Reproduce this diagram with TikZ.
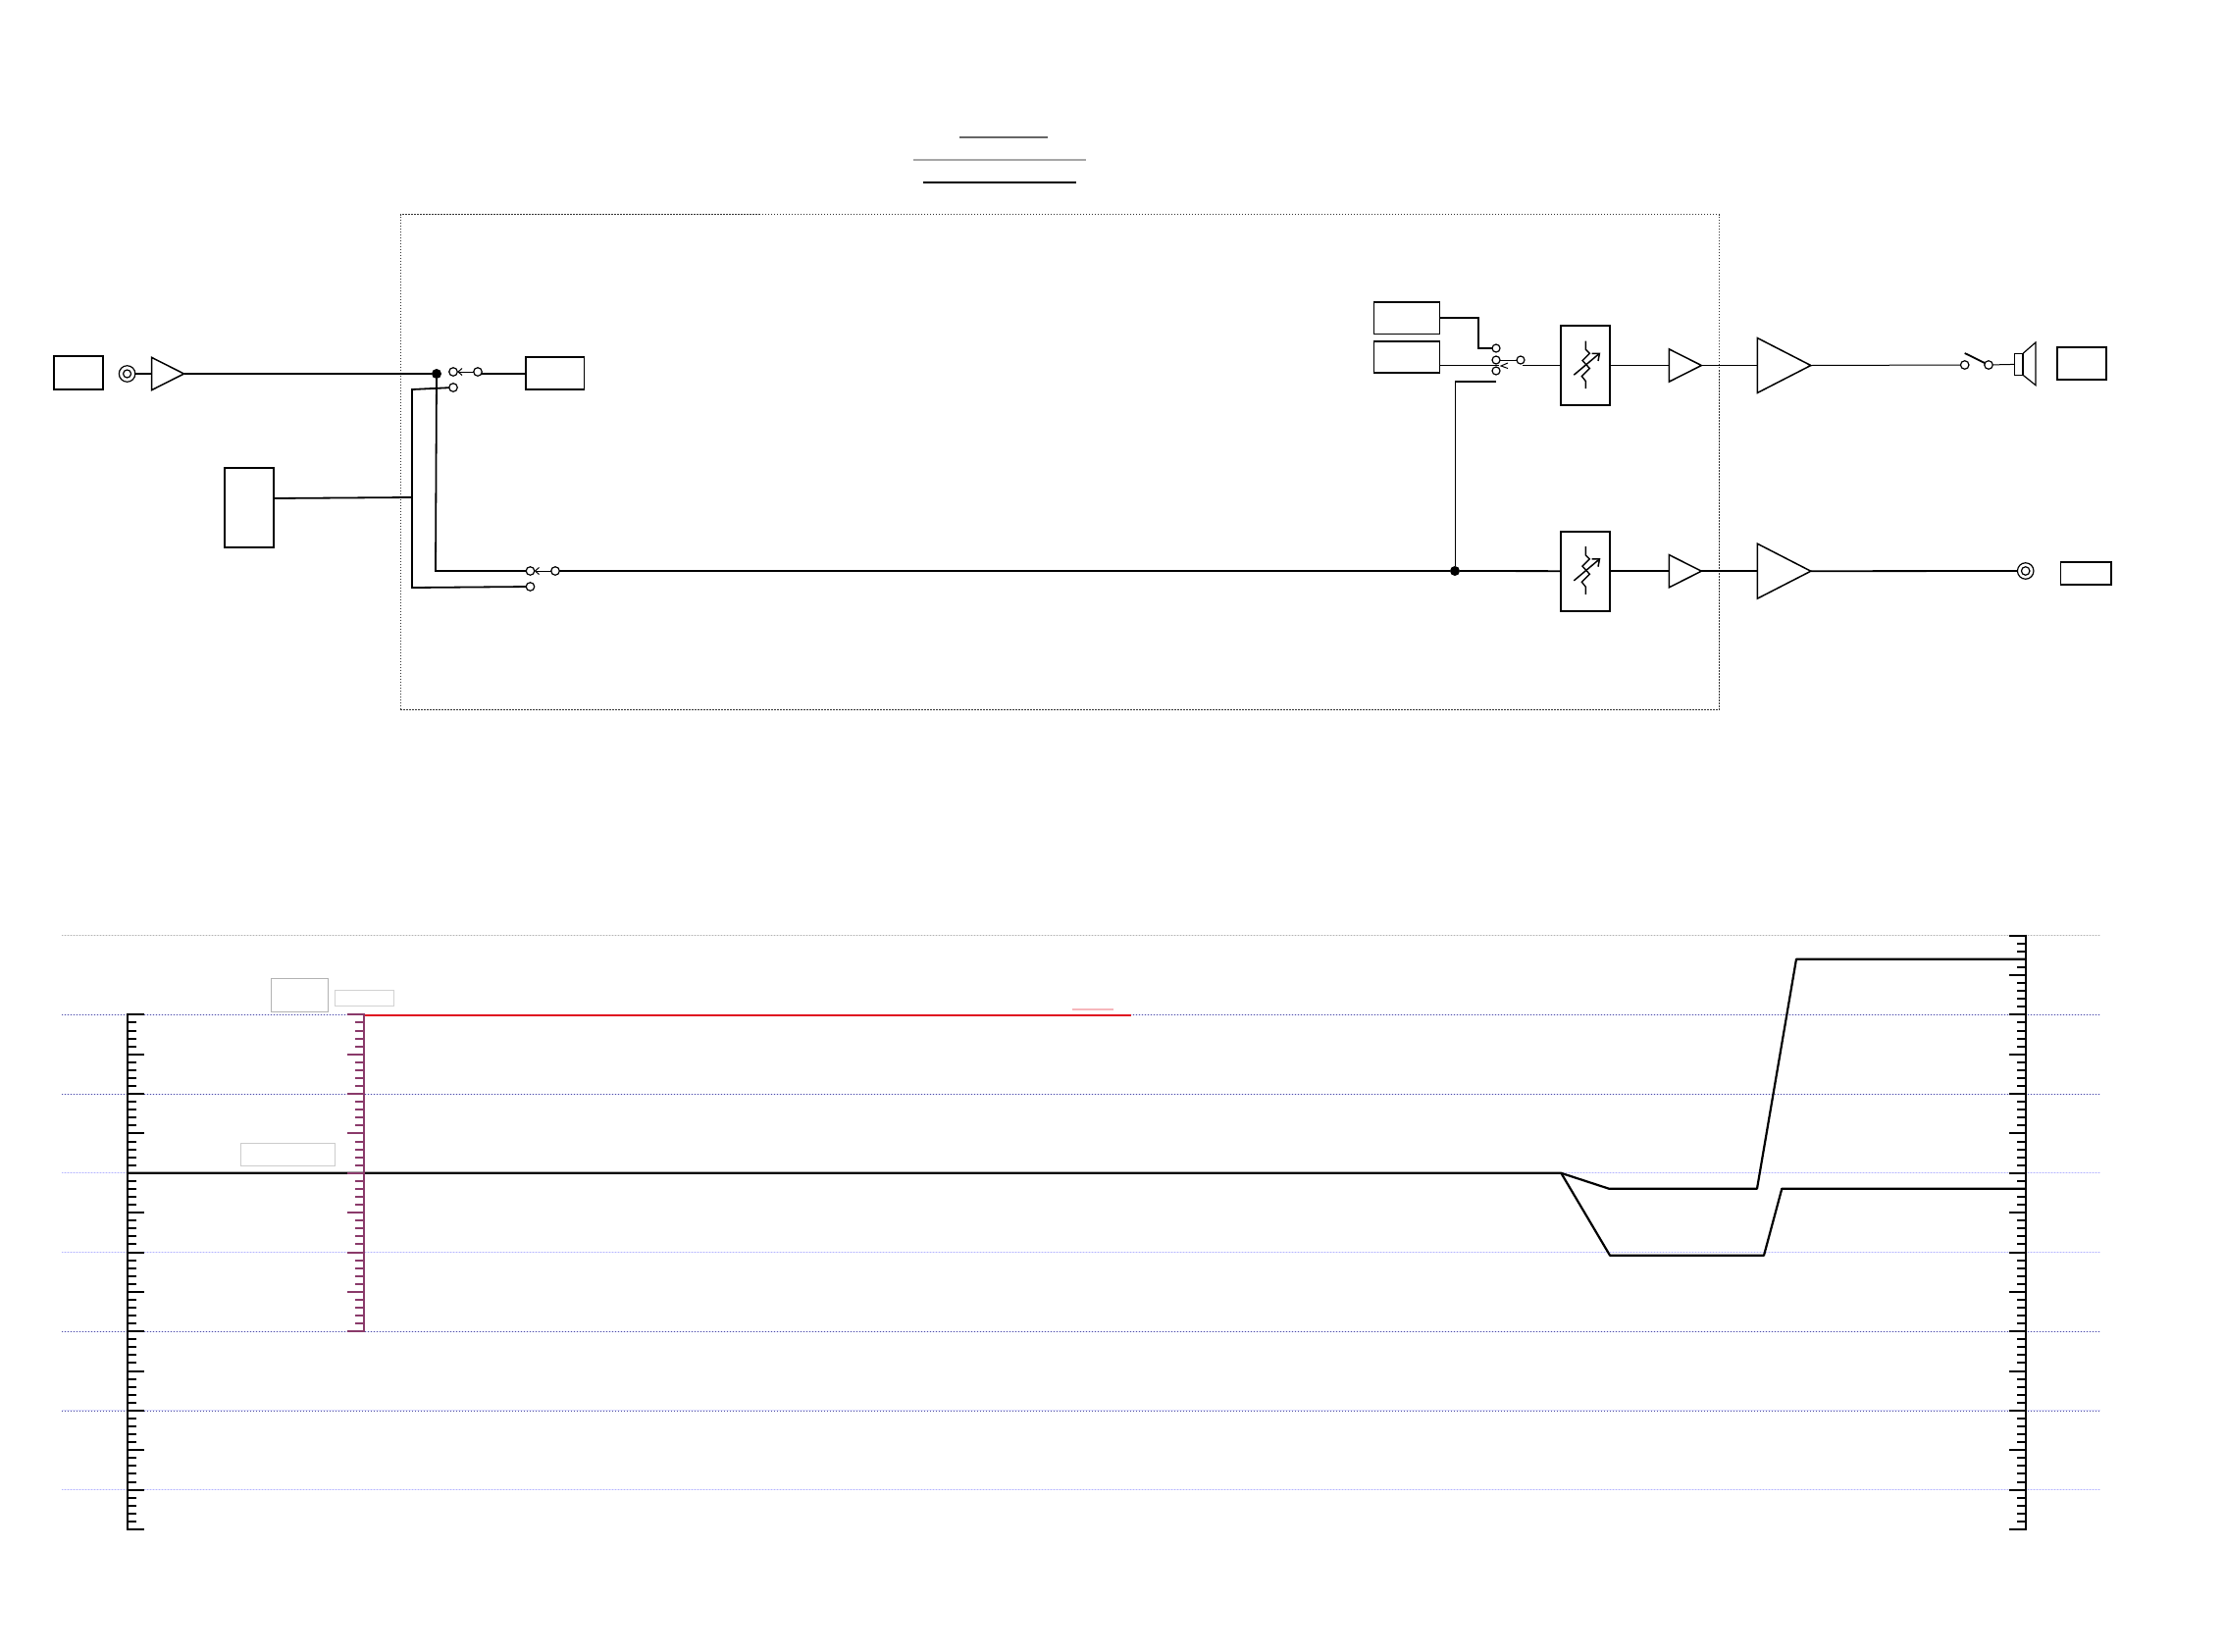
\documentclass[tikz,border=0pt]{standalone}
\usepackage{tikz}
\usetikzlibrary{arrows.meta,positioning,calc,shapes.geometric}
\definecolor{axispurple}{HTML}{8A3A6A}
\definecolor{tracered}{HTML}{E01020}
\begin{document}
\begin{tikzpicture}[x=1pt,y=-1pt,outer sep=0pt,
 box/.style={draw,inner sep=0pt,line width=1.1pt},
 boxb/.style={draw,inner sep=0pt,line width=1.7pt},
 ghost/.style={draw=gray!55,inner sep=0pt,line width=1pt,minimum width=#1},
 amptri/.style={draw,fill=white,isosceles triangle,isosceles triangle stretches,
  inner sep=0pt,line width=1.5pt,minimum width=33.3pt,minimum height=33pt},
 ampbig/.style={amptri,minimum width=56pt,minimum height=54.5pt},
 term/.style={circle,draw,fill=white,inner sep=0pt,minimum size=8.5pt,line width=1.2pt},
 coax/.style={circle,draw,fill=white,inner sep=0pt,minimum size=16.5pt,line width=1.2pt},
 dotjn/.style={circle,fill=black,inner sep=0pt,minimum size=10pt},
 wire/.style={line width=1.8pt},
 thinwire/.style={line width=1pt},
 tick/.style={line width=2pt},
 trace/.style={line width=2.2pt,line join=round},
 varres/.pic={
  \draw[line width=1.4pt] (0,-25)--(0,-16.3)--(4,-12.3)--(-3.3,-5)--(4,3)--(-4,11)--(0,16)--(0,23.7);
  \draw[line width=1.5pt,-{Straight Barb[length=6pt,width=10pt]}] (-12,9.7)--(15,-13);
 }]
\useasboundingbox (0,0) rectangle (2268,1684);
% rules at the top
\draw[line width=1.5pt,black!60] (978,140)--(1068,140);
\draw[line width=1.5pt,black!35] (931,163)--(1107,163);
\draw[line width=1.2pt] (941,186)--(1097,186);
% dotted frame
\node[draw=black!80,line width=1pt,dash pattern=on 1.5pt off 1.5pt,inner sep=0pt,
 minimum width=1344pt,minimum height=505pt] (frame) at (1080,471) {};
% input side
\node[boxb,minimum width=50pt,minimum height=33.5pt] (inbox) at (80,380) {};
\node[coax] (incoax) at (129.6,381) {};
\node[term,minimum size=8pt] (incoaxb) at (incoax) {};
\node[amptri,right=16.7pt of incoax] (preamp) {};
\node[dotjn] (jntop) at (445,381) {};
\node[term] (swa) at (462,379) {};
\node[term] (swb) at (487,379) {};
\node[term] (swc) at (462,395) {};
\coordinate (swbout) at (491,381);
\node[box,minimum width=59.4pt,minimum height=33pt] (srcbox) at (565.7,380.5) {};
\node[boxb,minimum width=50pt,minimum height=80.5pt] (ctlbox) at (254,517.5) {};
\node[term] (swd) at (540.5,582) {};
\node[term] (swe) at (566,582) {};
\node[term] (swf) at (540.5,598) {};
\coordinate (ctlbus) at (420,507);
\coordinate (bustop) at (420,397);
\coordinate (busbot) at (420,599);
\coordinate (jnbot) at (444,582);
% mix switch and channels
\node[box,minimum width=67.4pt,minimum height=32.7pt] (mixa) at (1434,324.3) {};
\node[box,minimum width=67.4pt,below=7.3pt of mixa,minimum height=32pt] (mixb) {};
\node[term,minimum size=8pt] (mswa) at (1525,355) {};
\node[term,minimum size=8pt] (mswb) at (1525,367) {};
\node[term,minimum size=8pt] (mswc) at (1525,378) {};
\node[term,minimum size=8pt] (mswd) at (1550,367) {};
\coordinate (mswin) at (1528,372);
\coordinate (mswout) at (1552,372);
\coordinate (mswtap) at (1525,389);
\node[boxb,minimum width=50pt,minimum height=81pt] (atta) at (1616.3,372.5) {};
\node[boxb,below=128.7pt of atta,minimum width=50pt,minimum height=81pt] (attb) {};
\pic at (atta.center) {varres};
\pic at (attb.center) {varres};
\node[amptri,right=60pt of atta] (vola) {};
\node[amptri,right=60pt of attb] (volb) {};
\node[ampbig,right=57pt of vola] (powa) {};
\node[ampbig,right=57pt of volb] (powb) {};
\node[dotjn] (jnch) at (1483,582) {};
% outputs
\node[term] (hpa) at (2002.7,372) {};
\node[term] (hpb) at (2027,372) {};
\coordinate (bladea) at (2002.7,360);
\coordinate (bladeb) at (2023,370);
\node[draw,inner sep=0pt,line width=1.5pt,minimum width=8.7pt,minimum height=22pt] (spk) at (2057.7,371.3) {};
\node[boxb,minimum width=50pt,minimum height=33pt] (spkbox) at (2122,370.5) {};
\node[coax] (outcoax) at (2064.7,582) {};
\node[term] (outcoaxb) at (outcoax) {};
\node[boxb,minimum width=51.5pt,minimum height=23pt] (outbox) at (2126.2,584.3) {};
\draw[wire] (incoax)--(preamp);\draw[wire] (preamp.east)--(jntop);
\draw[wire] (jntop)--(jnbot)--(swd);
\draw[thinwire,-{Straight Barb[length=4pt,width=7pt]}] (swb)--(swa);
\draw[thinwire,-{Straight Barb[length=4pt,width=7pt]}] (swe)--(swd);
\draw[wire] (swbout)--(srcbox.west |- swbout);
\draw[wire] (swc)--(bustop)--(busbot)--(swf);
\draw[wire] (ctlbox.east |- 0,508)--(ctlbus);
\draw[wire] (swe)--(jnch);\draw[wire] (jnch)--(attb);
\draw[wire] (mixa.east)--(1507,324.3)--(1507,355)--(mswa);
\draw[thinwire] (mixb.east |- mswin)--(mswin);
\draw[thinwire] (mswb)--(mswd);
\draw[thinwire] (mswout)--(atta.west |- mswout);
\draw[line width=1pt] (1537,370)--(1530,373)--(1537,375.5);
\draw[wire] (mswtap)--(jnch |- mswtap);
\draw[thinwire] (jnch |- mswtap)--(jnch);
\draw[thinwire] (atta)--(vola);\draw[thinwire] (vola.east)--(powa);
\draw[wire] (attb)--(volb);\draw[wire] (volb.east)--(powb);
\draw[thinwire] (powa.east)--(hpa);
\draw[wire] (bladea)--(bladeb);
\draw[thinwire] (hpb)--(spk);
\draw[line width=1.2pt] (spk.north east)--(2075,349)--(2075,392.7)--(spk.south east);
\draw[wire] (powb.east)--(outcoax);
% grid of the level chart
\foreach \gy/\gc/\gb in {953.7/black!30/black!10,1034.4/blue!45!black!70/blue!14,
 1115.1/blue!45!black!70/blue!14,1195.8/blue!30/blue!12,1276.5/blue!30/blue!12,
 1357.2/blue!45!black!70/blue!14,1437.9/blue!45!black!70/blue!14,1518.6/blue!30/blue!12}{
 \draw[\gb,line width=1pt] (63,\gy)--(2140.5,\gy);
 \draw[\gc,line width=.8pt,dash pattern=on 1pt off 2pt] (63,\gy)--(2140.5,\gy);
}
\node[ghost=58.4pt,draw=gray!60,minimum height=33.7pt] (tagA) at (305.5,1014.8) {};
\node[ghost=59.5pt,draw=gray!35,minimum height=16pt] (tagB) at (371.7,1017) {};
\node[ghost=96.7pt,draw=gray!40,minimum height=23pt] (tagC) at (293.5,1176.5) {};
% traces
\coordinate (lvlstart) at (130,1195.8);
\coordinate (lvlsplit) at (1591.3,1195.8);
\coordinate (lvlend) at (2065,1211.7);
\coordinate (lvltop) at (2065,977.7);
\draw[trace] (lvlstart)--(lvlsplit)--(1640,1211.7)--(1791,1211.7)--(1831,977.7)--(lvltop);
\draw[trace] (lvlsplit)--(1641,1279.7)--(1798,1279.7)--(1816.3,1211.7)--(lvlend);
\coordinate (redstart) at (371,1034.6);
\coordinate (redend) at (1153,1034.6);
\draw[tracered,line width=2.2pt] (redstart)--(redend);
\draw[tracered!30,line width=1.5pt] (1093,1029)--(1135,1029);
% scales
\draw[line width=2pt] (130,1033.4)--(130,1559.6);
\foreach \k in {0,...,65}{
 \pgfmathsetmacro\ty{1034.4+8.07*\k}
 \pgfmathtruncatemacro\tl{mod(\k,5)==0?17:9}
 \draw[tick] (130,\ty)--++(\tl,0);
}
\draw[line width=2pt] (2065,952.7)--(2065,1559.6);
\foreach \k in {0,...,75}{
 \pgfmathsetmacro\ty{953.7+8.07*\k}
 \pgfmathtruncatemacro\tl{mod(\k,5)==0?17:9}
 \draw[tick] (2065,\ty)--++(-\tl,0);
}
\draw[axispurple,line width=2pt] (371,1033.4)--(371,1358.2);
\foreach \k in {0,...,40}{
 \pgfmathsetmacro\ty{1034.4+8.07*\k}
 \pgfmathtruncatemacro\tl{mod(\k,5)==0?17:9}
 \draw[tick,axispurple] (371,\ty)--++(-\tl,0);
}
\end{tikzpicture}
\end{document}
